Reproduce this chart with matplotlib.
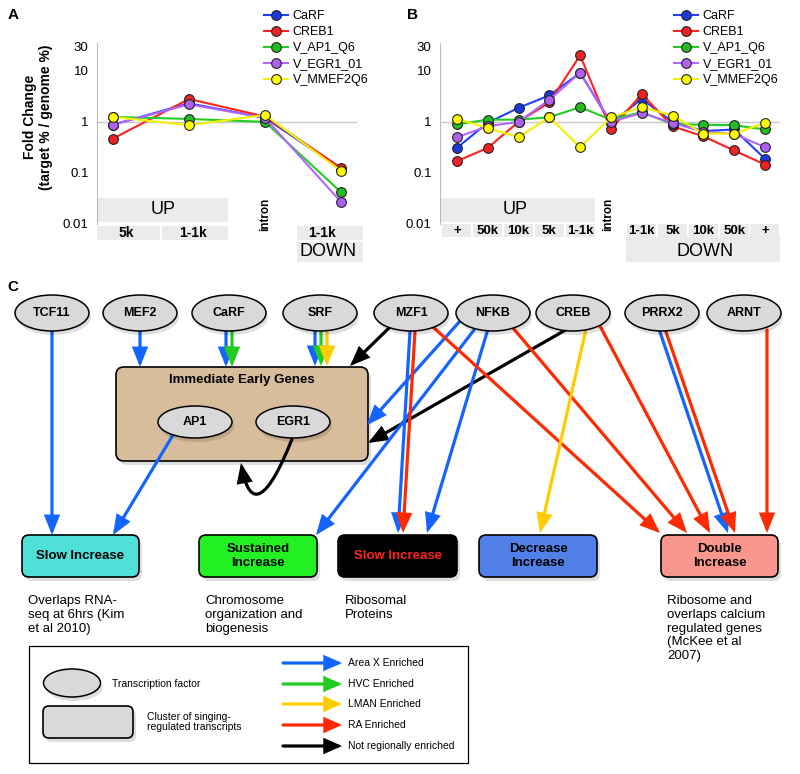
import numpy as np
import matplotlib
matplotlib.use('Agg')
import matplotlib.pyplot as plt
from matplotlib.patches import Ellipse, FancyBboxPatch, FancyArrowPatch, Rectangle
from matplotlib.path import Path
from matplotlib.ticker import NullLocator

plt.rcParams['font.family'] = ['Liberation Sans', 'DejaVu Sans']

# ---- data ----
series_names = ['CaRF', 'CREB1', 'V_AP1_Q6', 'V_EGR1_01', 'V_MMEF2Q6']
line_colors = ['#2040ff', '#ff2020', '#22cc22', '#b266ff', '#f2f200']
marker_colors = ['#1a3ae0', '#ee2222', '#22bb22', '#b060f0', '#ffff00']

a_cats = ['5k', '1-1k', 'intron', '1-1k']
a_carf = [0.88, 2.3, 1.2, 0.12]
a_creb1 = [0.47, 2.8, 1.27, 0.126]
a_ap1 = [1.25, 1.14, 1.0, 0.042]
a_egr1 = [0.88, 2.2, 1.2, 0.027]
a_mmef2 = [1.25, 0.86, 1.37, 0.11]

b_cats = ['+', '50k', '10k', '5k', '1-1k', 'intron', '1-1k', '5k', '10k', '50k', '+']
b_carf = [0.31, 0.96, 1.88, 3.3, 9.1, 0.95, 2.8, 1.0, 0.66, 0.71, 0.19]
b_creb1 = [0.17, 0.31, 1.0, 2.4, 20, 0.71, 3.5, 0.82, 0.52, 0.275, 0.146]
b_ap1 = [0.89, 1.11, 1.1, 1.23, 1.94, 1.1, 1.55, 0.9, 0.88, 0.86, 0.71]
b_egr1 = [0.5, 0.82, 1.0, 2.7, 9.2, 1.0, 1.5, 0.95, 0.64, 0.58, 0.32]
b_mmef2 = [1.15, 0.76, 0.5, 1.23, 0.32, 1.22, 1.95, 1.33, 0.59, 0.59, 0.95]

y_ticks = [0.01, 0.1, 1, 10, 30]
y_ticklabels = ['0.01', '0.1', '1', '10', '30']

fig = plt.figure(figsize=(8, 7.74), dpi=100)


def px_axes(l, t, r, b):
    return fig.add_axes([l / 800, 1 - b / 774, (r - l) / 800, (b - t) / 774])


def fy(y):
    # pixel row -> axes fraction for the two line plots (axes from y=43 to 224)
    return (224 - y) / 181.0


def style_axis(ax, xlim):
    ax.set_yscale('log')
    ax.set_ylim(0.01, 35)
    ax.set_xlim(*xlim)
    ax.set_yticks(y_ticks)
    ax.set_yticklabels(y_ticklabels)
    ax.yaxis.set_minor_locator(NullLocator())
    ax.tick_params(axis='y', length=0, labelsize=9.5, pad=6)
    ax.set_xticks([])
    for s in ['top', 'right', 'bottom']:
        ax.spines[s].set_visible(False)
    ax.spines['left'].set_color('#bbbbbb')
    ax.axhline(1, color='#c8c8c8', lw=1, zorder=1)
    ax.patch.set_alpha(0)


def gbox(ax, x0, x1, ytop, ybot):
    ax.add_patch(Rectangle((x0, fy(ybot)), x1 - x0, fy(ytop) - fy(ybot),
                           transform=ax.get_xaxis_transform(), fc='#ebebeb',
                           ec='none', clip_on=False, zorder=0))


def gtext(ax, x, y, s, **kw):
    ax.text(x, fy(y), s, transform=ax.get_xaxis_transform(), ha='center',
            va='center', clip_on=False, **kw)


def draw_series(ax, vals_list):
    x = np.arange(len(vals_list[0]))
    for name, vals, lc, mc in zip(series_names, vals_list, line_colors, marker_colors):
        ax.plot(x, vals, '-o', color=lc, lw=1.5, ms=7, mfc=mc, mec='#222222',
                mew=0.8, clip_on=False, zorder=3, label=name)


# ---- panel A ----
axA = px_axes(97, 43, 357, 224)
style_axis(axA, (-0.21, 3.21))
draw_series(axA, [a_carf, a_creb1, a_ap1, a_egr1, a_mmef2])
gbox(axA, -0.21, 1.51, 198, 222)
gtext(axA, 0.66, 210, 'UP', fontsize=13)
a_spans = [(-0.21, 0.62), (0.65, 1.51), None, (2.42, 3.29)]
a_lab_x = [0.18, 1.05, 2.0, 2.75]
for span, lx, c in zip(a_spans, a_lab_x, a_cats):
    if span is None:
        gtext(axA, lx, 214, c, fontsize=8.5, fontweight='bold', rotation=90)
    else:
        gbox(axA, span[0], span[1], 226, 240)
        gtext(axA, lx, 233, c, fontsize=10, fontweight='bold')
gbox(axA, 2.42, 3.29, 242, 262)
gtext(axA, 2.83, 252, 'DOWN', fontsize=13)
axA.legend(loc='upper left', bbox_to_anchor=(264 / 800, 1 - 10 / 774),
           bbox_transform=fig.transFigure, frameon=False, fontsize=9,
           handlelength=1.9, handletextpad=0.4, labelspacing=0.32,
           borderpad=0, borderaxespad=0)

# ---- panel B ----
axB = px_axes(440, 43, 780, 224)
style_axis(axB, (-0.55, 10.49))
draw_series(axB, [b_carf, b_creb1, b_ap1, b_egr1, b_mmef2])
gbox(axB, -0.55, 4.48, 198, 222)
gtext(axB, 1.88, 210, 'UP', fontsize=13)
for i, c in enumerate(b_cats):
    if c == 'intron':
        gtext(axB, i - 0.1, 214, c, fontsize=8.5, fontweight='bold', rotation=90)
    else:
        gbox(axB, i - 0.47, i + 0.47, 224, 237)
        gtext(axB, i, 231, c, fontsize=9.5, fontweight='bold')
gbox(axB, 5.49, 10.49, 237, 262)
gtext(axB, 8.05, 252, 'DOWN', fontsize=13)
axB.legend(loc='upper left', bbox_to_anchor=(674 / 800, 1 - 10 / 774),
           bbox_transform=fig.transFigure, frameon=False, fontsize=9,
           handlelength=1.9, handletextpad=0.4, labelspacing=0.32,
           borderpad=0, borderaxespad=0)

fig.text(38 / 800, 1 - 117 / 774, 'Fold Change\n(target % / genome %)', rotation=90,
         ha='center', va='center', fontsize=10, fontweight='bold', linespacing=1.15)

# ---- panel C (pixel coordinates) ----
ov = fig.add_axes([0, 0, 1, 1])
ov.set_xlim(0, 800)
ov.set_ylim(774, 0)
ov.axis('off')
ov.patch.set_alpha(0)

BLUE, GREEN, YELLOW, RED, BLACK = '#1464ff', '#22cc22', '#ffcc00', '#ff2a00', '#000000'

for lbl, (x, y) in {'A': (13, 15), 'B': (413, 15), 'C': (13, 287)}.items():
    ov.text(x, y, lbl, fontsize=11, fontweight='bold', ha='center', va='center')


def node(cx, cy, w, h, label, fs=9):
    ov.add_patch(Ellipse((cx + 2, cy + 4), w, h, fc='k', ec='none', alpha=0.13, zorder=3))
    ov.add_patch(Ellipse((cx, cy), w, h, fc='#d9d9d9', ec='k', lw=1.1, zorder=3))
    if label:
        ov.text(cx, cy, label, fontsize=fs, fontweight='bold', ha='center',
                va='center', zorder=4)


def rbox(x0, y0, x1, y1, fc, label='', tc='k', fs=9.5, r=7, z=1):
    ov.add_patch(FancyBboxPatch((x0 + 3, y0 + 4), x1 - x0, y1 - y0,
                                boxstyle=f'round,pad=0,rounding_size={r}',
                                fc='k', ec='none', alpha=0.13, zorder=z))
    ov.add_patch(FancyBboxPatch((x0, y0), x1 - x0, y1 - y0,
                                boxstyle=f'round,pad=0,rounding_size={r}',
                                fc=fc, ec='k', lw=1.2, zorder=z))
    if label:
        ov.text((x0 + x1) / 2, (y0 + y1) / 2, label, fontsize=fs, fontweight='bold',
                color=tc, ha='center', va='center', linespacing=1.25, zorder=z + 0.5)


def arrow(p, q, c, lw=2.3, hl=1.05, hw=0.42, path=None):
    style = f'-|>,head_length={hl},head_width={hw}'
    if path is not None:
        a = FancyArrowPatch(path=path, arrowstyle=style, mutation_scale=10,
                            color=c, lw=lw, zorder=2, joinstyle='miter')
    else:
        a = FancyArrowPatch(p, q, arrowstyle=style, mutation_scale=10, color=c,
                            lw=lw, shrinkA=0, shrinkB=0, zorder=2, joinstyle='miter')
    ov.add_patch(a)


# top transcription factors
tf_nodes = {'TCF11': 52, 'MEF2': 140, 'CaRF': 229, 'SRF': 320, 'MZF1': 411,
            'NFKB': 493, 'CREB': 573, 'PRRX2': 662, 'ARNT': 744}
for name, cx in tf_nodes.items():
    node(cx, 313, 74, 36, name)

# Immediate early genes box
rbox(116, 367, 368, 461, '#d8bd9c', r=8)
ov.text(242, 380, 'Immediate Early Genes', fontsize=9.5, fontweight='bold',
        ha='center', va='center', zorder=2)
node(195, 422, 74, 32, 'AP1')
node(293, 422, 74, 32, 'EGR1')

# outcome clusters
rbox(22, 535, 139, 577, '#4fe0da', 'Slow Increase')
rbox(199, 535, 317, 577, '#22f022', 'Sustained\nIncrease')
rbox(338, 535, 457, 577, '#000000', 'Slow Increase', tc='#ff2020')
rbox(479, 535, 597, 577, '#5080e8', 'Decrease\nIncrease')
rbox(661, 535, 778, 577, '#fa978c', 'Double\nIncrease')

notes = [(28, 'Overlaps RNA-\nseq at 6hrs (Kim\net al 2010)'),
         (205, 'Chromosome\norganization and\nbiogenesis'),
         (345, 'Ribosomal\nProteins'),
         (667, 'Ribosome and\noverlaps calcium\nregulated genes\n(McKee et al\n2007)')]
for x, s in notes:
    ov.text(x, 595, s, fontsize=9.5, ha='left', va='top', linespacing=1.2)

# edges
edges = [((52, 331), (52, 535), BLUE),
         ((140, 331), (140, 367), BLUE),
         ((226, 331), (226, 367), BLUE),
         ((232, 331), (232, 367), GREEN),
         ((315, 331), (315, 366), BLUE),
         ((321, 331), (321, 366), GREEN),
         ((327, 331), (327, 366), YELLOW),
         ((390, 327), (350, 366), BLACK),
         ((461, 320), (367, 425), BLUE),
         ((569, 328), (368, 443), BLACK),
         ((173, 435), (113, 535), BLUE),
         ((474, 330), (316, 535), BLUE),
         ((488, 329), (427, 533), BLUE),
         ((410, 331), (398, 533), BLUE),
         ((415, 331), (403, 533), RED),
         ((433, 327), (660, 533), RED),
         ((513, 328), (687, 533), RED),
         ((586, 329), (540, 533), YELLOW),
         ((600, 326), (710, 533), RED),
         ((659, 329), (728, 533), BLUE),
         ((665, 329), (735, 533), RED),
         ((767, 330), (767, 533), RED)]
for p, q, c in edges:
    arrow(p, q, c)

# EGR1 feeding back into the immediate early genes
loop = Path([(292, 439), (268, 500), (250, 512), (241, 463)],
            [Path.MOVETO, Path.CURVE4, Path.CURVE4, Path.CURVE4])
arrow(None, None, BLACK, path=loop)

# key
ov.add_patch(Rectangle((29, 646), 439, 117, fc='white', ec='k', lw=0.9, zorder=1))
node(72, 683, 57, 28, '')
ov.text(112, 684, 'Transcription factor', fontsize=7.5, va='center', zorder=2)
rbox(43, 706, 133, 738, '#d9d9d9', r=6, z=1.2)
ov.text(147, 722, 'Cluster of singing-\nregulated transcripts', fontsize=7.5,
        va='center', linespacing=1.1, zorder=2)
key_labels = ['Area X Enriched', 'HVC Enriched', 'LMAN Enriched', 'RA Enriched',
              'Not regionally enriched']
key_colors = [BLUE, GREEN, YELLOW, RED, BLACK]
key_rows = [663, 684, 704, 725, 746]
for lbl, c, y in zip(key_labels, key_colors, key_rows):
    arrow((283, y), (342, y), c, lw=2.3, hl=0.95, hw=0.42)
    ov.text(348, y, lbl, fontsize=7.5, va='center', zorder=2)

fig.savefig('out.png', dpi=100)
